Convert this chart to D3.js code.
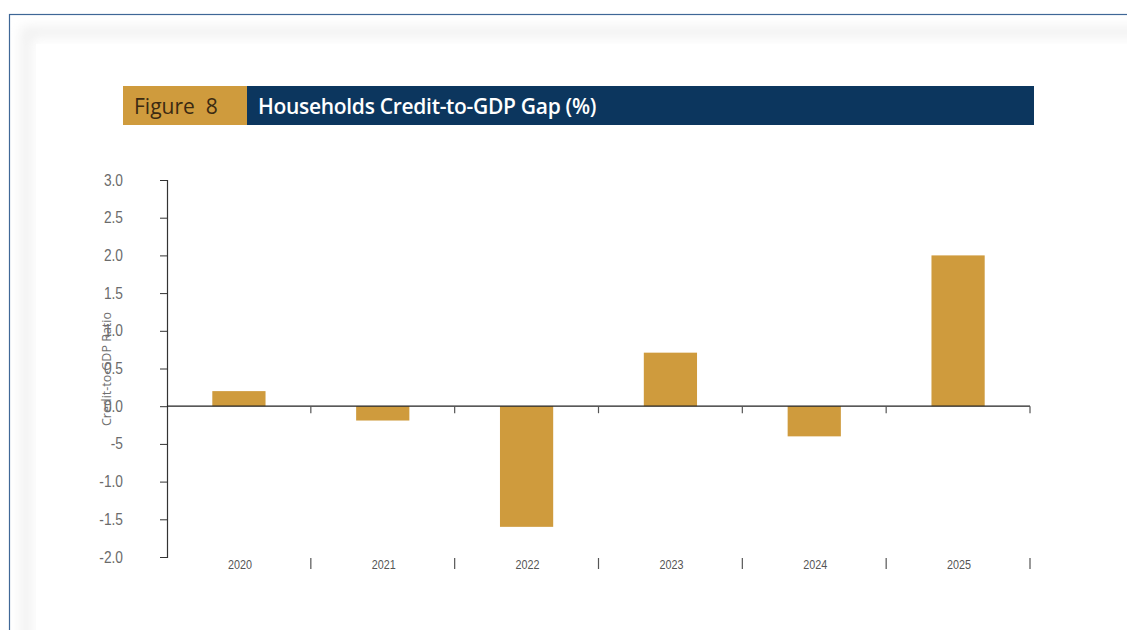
<!DOCTYPE html>
<html>
<head>
<meta charset="utf-8">
<script src="https://cdn.jsdelivr.net/npm/d3@7"></script>
<style>
  html, body { margin: 0; padding: 0; background: #fff; }
  svg { display: block; }
</style>
</head>
<body>
<div id="chart"></div>
<script>
// Households credit-to-GDP gap by year (percentage points)
const years = ["2020", "2021", "2022", "2023", "2024", "2025"];
const gapValues = [0.2, -0.19, -1.6, 0.71, -0.4, 2.0];
const yTickValues = [3.0, 2.5, 2.0, 1.5, 1.0, 0.5, 0.0, -0.5, -1.0, -1.5, -2.0];
const yTickLabels = ["3.0", "2.5", "2.0", "1.5", "1.0", "0.5", "0.0", "-5", "-1.0", "-1.5", "-2.0"];
const figureLabel = "Figure  8";
const titleText = "Households Credit-to-GDP Gap (%)";
const yAxisTitle = "Credit-to-GDP Ratio";

const W = 1127, H = 630;
const gold = "#cf9b3d", navy = "#0c365e";
const sans = "'Open Sans', 'Noto Sans', sans-serif";
const condensed = "'Liberation Sans Narrow', 'Liberation Sans', sans-serif";

const svg = d3.select("#chart").append("svg")
  .attr("width", W).attr("height", H);

// soft card shadow
const defs = svg.append("defs");
const f = defs.append("filter").attr("id", "soft")
  .attr("x", "-10%").attr("y", "-10%").attr("width", "120%").attr("height", "120%");
f.append("feGaussianBlur").attr("stdDeviation", 6);

// page frame
svg.append("rect").attr("x", 9.5).attr("y", 14.5)
  .attr("width", W + 20).attr("height", H + 20)
  .attr("fill", "#fff").attr("stroke", "#3d6696").attr("stroke-width", 1.2);
svg.append("rect").attr("x", 26).attr("y", 32)
  .attr("width", W + 40).attr("height", H + 40)
  .attr("fill", "none").attr("stroke", "#efefef").attr("stroke-width", 10)
  .attr("filter", "url(#soft)");
svg.append("rect").attr("x", 36).attr("y", 44)
  .attr("width", W).attr("height", H)
  .attr("fill", "#fff");

// title bar
svg.append("rect").attr("x", 123).attr("y", 86).attr("width", 124).attr("height", 39).attr("fill", gold);
svg.append("rect").attr("x", 247).attr("y", 86).attr("width", 787).attr("height", 39).attr("fill", navy);
svg.append("text").attr("x", 134).attr("y", 114)
  .attr("font-family", sans).attr("font-size", 21)
  .attr("fill", "#3b2a12").attr("xml:space", "preserve").text(figureLabel);
svg.append("text").attr("x", 258).attr("y", 114)
  .attr("font-family", sans).attr("font-size", 21)
  .attr("font-weight", 600).attr("letter-spacing", -0.3)
  .attr("fill", "#fff").text(titleText);

// scales
const x = d3.scaleBand().domain(years).range([167, 1030]).paddingInner(0.63).paddingOuter(0.315);
const xb = d3.scaleBand().domain(years).range([167, 1030]);
const y = d3.scaleLinear().domain([-2, 3]).range([557, 180]);

// y axis (labels drawn separately so they can be condensed)
const yAxis = svg.append("g").attr("transform", "translate(167,0)")
  .call(d3.axisLeft(y).tickValues(yTickValues).tickSize(7).tickFormat(""));
yAxis.select(".domain").attr("stroke", "#333").attr("stroke-width", 1.2);
yAxis.selectAll(".tick line").attr("stroke", "#333").attr("stroke-width", 1);

svg.append("g").selectAll("text").data(yTickValues).join("text")
  .attr("transform", d => `translate(123,${y(d) + 5.5}) scale(0.86,1)`)
  .attr("text-anchor", "end")
  .attr("font-family", condensed).attr("font-size", 16)
  .attr("fill", "#6b6b6b")
  .text((d, i) => yTickLabels[i]);

// bars
svg.append("g").selectAll("rect").data(years).join("rect")
  .attr("x", d => x(d))
  .attr("width", x.bandwidth())
  .attr("y", (d, i) => Math.min(y(gapValues[i]), y(0)))
  .attr("height", (d, i) => Math.abs(y(gapValues[i]) - y(0)))
  .attr("fill", gold);

// zero line with category separators
const zero = svg.append("g").attr("transform", `translate(0,${y(0)})`);
zero.append("line").attr("x1", 167).attr("x2", 1030).attr("stroke", "#222").attr("stroke-width", 1.2);
zero.selectAll("line.sep").data(years).join("line").attr("class", "sep")
  .attr("x1", d => xb(d) + xb.bandwidth()).attr("x2", d => xb(d) + xb.bandwidth())
  .attr("y1", 0).attr("y2", 7).attr("stroke", "#555").attr("stroke-width", 1.2);

// bottom category labels and separators
const bottom = svg.append("g").attr("transform", `translate(0,${y(-2)})`);
bottom.selectAll("line.sep").data(years).join("line").attr("class", "sep")
  .attr("x1", d => xb(d) + xb.bandwidth()).attr("x2", d => xb(d) + xb.bandwidth())
  .attr("y1", 1).attr("y2", 12).attr("stroke", "#555").attr("stroke-width", 1.2);
bottom.selectAll("text").data(years).join("text")
  .attr("transform", d => `translate(${xb(d) + xb.bandwidth() / 2 + 1},12) scale(0.8,1)`)
  .attr("text-anchor", "middle")
  .attr("font-family", condensed).attr("font-size", 13.5)
  .attr("fill", "#555").text(d => d);

// rotated y-axis title
svg.append("text")
  .attr("transform", `translate(111,369) rotate(-90)`)
  .attr("text-anchor", "middle")
  .attr("font-family", sans).attr("font-size", 12.5)
  .attr("fill", "#6f6f6f").text(yAxisTitle);
</script>
</body>
</html>
